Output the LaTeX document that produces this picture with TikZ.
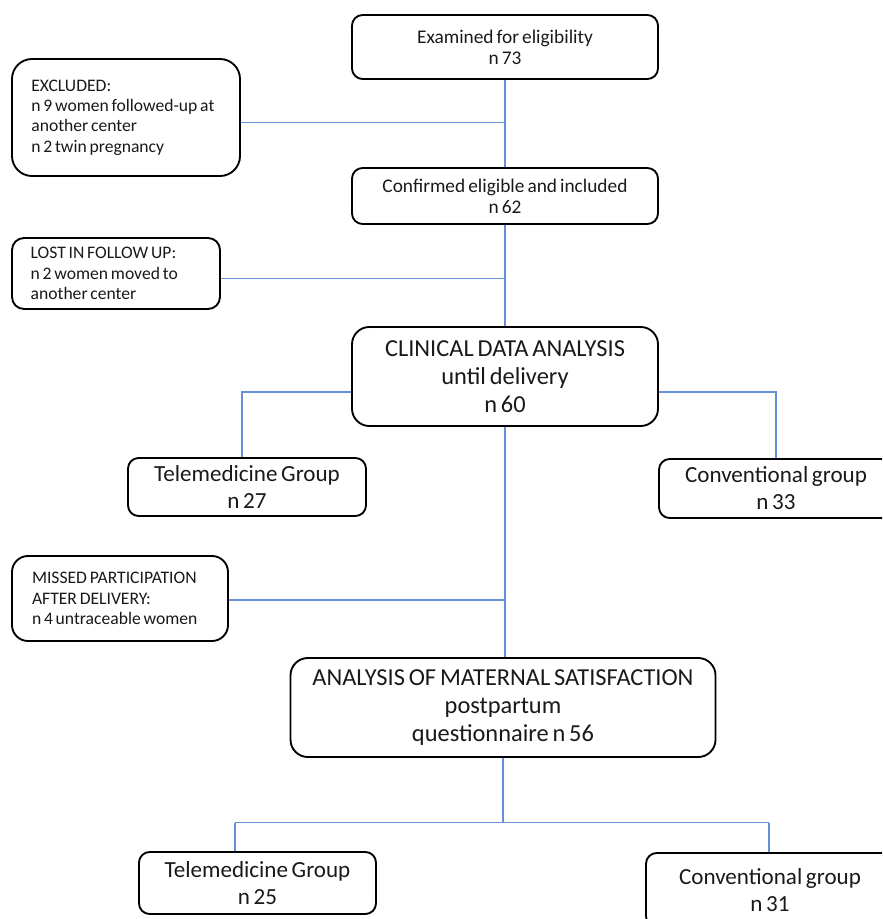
\documentclass[tikz,border=0pt]{standalone}
\usepackage{fontspec}
\setmainfont{Carlito}[WordSpace=0.7]
\usetikzlibrary{calc}
\definecolor{linkblue}{RGB}{102,145,217}
\definecolor{inkgray}{RGB}{25,25,25}
\tikzset{
	box/.style={draw=black, line width=1.4pt, rounded corners=8pt, align=center, inner sep=0pt, text=inkgray},
	sidebox/.style={box, align=flush left},
	topfont/.style={font=\fontsize{14.5}{15.75}\selectfont},
	sidefont/.style={font=\fontsize{13.2}{15.2}\selectfont},
	bigfont/.style={font=\fontsize{18.3}{21}\selectfont},
	groupfont/.style={font=\fontsize{17.3}{20.25}\selectfont},
	link/.style={draw=linkblue, line width=1.1pt},
}

\begin{document}
\begin{tikzpicture}[x=0.75pt, y=-0.75pt]
		%%%%% START %%%%%
		\clip (0, 0) rectangle (882, 919);
		
		% main column
		\node[box, topfont, minimum width=229.5pt, minimum height=48pt] (exam) at (505, 47) {Examined for eligibility\\n 73};
		\node[box, topfont, minimum width=229.5pt, minimum height=42pt] (confirmed) at (505, 196) {Confirmed eligible and included\\n 62};
		\node[box, bigfont, rounded corners=13pt, minimum width=229.5pt, minimum height=74.25pt] (clinical) at (505, 376.5) {CLINICAL DATA ANALYSIS\\until delivery\\n 60};
		\node[box, bigfont, rounded corners=13pt, minimum width=318.75pt, minimum height=74.25pt] (maternal) at (503, 707.5) {ANALYSIS OF MATERNAL SATISFACTION\\postpartum\\questionnaire n 56};
		
		% side boxes
		\node[sidebox, sidefont, rounded corners=15pt, minimum width=171pt, minimum height=87.75pt, text width=142pt] (excluded) at (126, 117.5) {EXCLUDED:\\n 9 women followed-up at\\another center\\n 2 twin pregnancy};
		\node[sidebox, sidefont, rounded corners=9pt, minimum width=156pt, minimum height=53.25pt, text width=128pt] (lost) at (116, 273.5) {LOST IN FOLLOW UP:\\n 2 women moved to\\another center};
		\node[sidebox, sidefont, rounded corners=12pt, minimum width=162pt, minimum height=63.75pt, text width=132pt] (missed) at (120, 598.5) {MISSED PARTICIPATION\\AFTER DELIVERY:\\n 4 untraceable women};
		
		% groups
		\node[box, groupfont, minimum width=178.5pt, minimum height=43.5pt] (tele1) at (247, 487) {Telemedicine Group\\n 27};
		\node[box, groupfont, minimum width=175.5pt, minimum height=44.25pt] (conv1) at (776, 488.5) {Conventional group\\n 33};
		\node[box, groupfont, minimum width=177.75pt, minimum height=46.5pt] (tele2) at (257.5, 883) {Telemedicine Group\\n 25};
		\node[box, groupfont, minimum width=186pt, minimum height=55.5pt] (conv2) at (770, 890) {Conventional group\\n 31};
		
		% connectors
		\draw[link] (exam.south) -- (confirmed.north);
		\draw[link] ([yshift=-3.75pt]excluded.east) -- ([yshift=-3.75pt]excluded.east -| exam.south);
		\draw[link] (confirmed.south) -- (clinical.north);
		\draw[link] ([yshift=-3.75pt]lost.east) -- ([yshift=-3.75pt]lost.east -| confirmed.south);
		\draw[link] ([yshift=-11.6pt]clinical.west) -| ([xshift=-3.75pt]tele1.north);
		\draw[link] ([yshift=-11.6pt]clinical.east) -| (conv1.north);
		\draw[link] (clinical.south) -- (clinical.south |- maternal.north);
		\draw[link] ([yshift=-1.125pt]missed.east) -- ([yshift=-1.125pt]missed.east -| clinical.south);
		
		\coordinate (forkL) at (235, 822.5);
		\coordinate (forkR) at (769, 822.5);
		\draw[link] (maternal.south) -- (maternal.south |- forkL);
		\draw[link] (forkL) -- (forkR);
		\draw[link] (forkL) -- (forkL |- tele2.north);
		\draw[link] (forkR) -- (forkR |- conv2.north);
		
		%%%%% END %%%%%
\end{tikzpicture}
\end{document}
